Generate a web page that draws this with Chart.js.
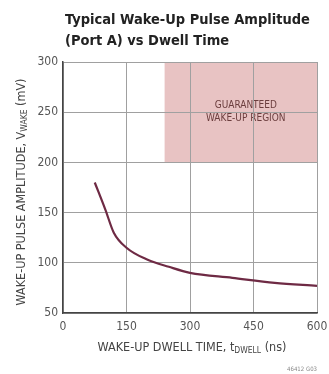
<!DOCTYPE html>
<html>
<head>
<meta charset="utf-8">
<script src="https://cdn.jsdelivr.net/npm/chart.js@4/dist/chart.umd.min.js"></script>
<style>
  html, body { margin: 0; padding: 0; background: #fff; }
  #wrap { width: 329px; height: 374px; }
</style>
</head>
<body>
<div id="wrap"><canvas id="wakeChart" width="329" height="374"></canvas></div>
<script>
// Dwell time (ns) vs wake-up pulse amplitude (mV)
const dwellTime = [75, 100, 120, 150, 200, 250, 300, 400, 500, 600];
const wakeAmplitude = [180, 153, 130, 115, 103, 96, 90, 85, 80, 77];

const xTicks = [0, 150, 300, 450, 600];
const yTicks = [50, 100, 150, 200, 250, 300];

// guaranteed wake-up region bounds (data units)
const regionX = [240, 600];
const regionY = [200, 300];

const titleLines = ['Typical Wake-Up Pulse Amplitude', '(Port A) vs Dwell Time'];
const condensed = '"Liberation Sans Narrow", "DejaVu Sans Condensed", sans-serif';

// draws the shaded region under the grid
const regionPlugin = {
    id: 'region',
    beforeDraw(chart) {
        const { ctx } = chart;
        const x = chart.scales.x, y = chart.scales.y;
        const x0 = x.getPixelForValue(regionX[0]), x1 = x.getPixelForValue(regionX[1]);
        const y0 = y.getPixelForValue(regionY[1]), y1 = y.getPixelForValue(regionY[0]);
        ctx.save();
        ctx.fillStyle = '#e8c3c3';
        ctx.fillRect(x0, y0, x1 - x0, y1 - y0);
        ctx.fillStyle = '#6b3d3d';
        ctx.font = '10px ' + condensed;
        ctx.textAlign = 'center';
        ctx.textBaseline = 'middle';
        const cx = (x0 + x1) / 2 + 5, cy = (y0 + y1) / 2;
        ctx.fillText('GUARANTEED', cx, cy - 7);
        ctx.fillText('WAKE-UP REGION', cx, cy + 6);
        ctx.restore();
    }
};

// axis title pieces: [text, isSubscript]
function subText(ctx, parts, x, y) {
    const big = '12.5px ' + condensed, small = '8.5px ' + condensed;
    let w = 0;
    parts.forEach(p => { ctx.font = p[1] ? small : big; w += ctx.measureText(p[0]).width; });
    let cx = x - w / 2;
    parts.forEach(p => {
        ctx.font = p[1] ? small : big;
        ctx.fillText(p[0], cx, p[1] ? y + 3 : y);
        cx += ctx.measureText(p[0]).width;
    });
}

const textPlugin = {
    id: 'texts',
    afterDraw(chart) {
        const { ctx, chartArea } = chart;
        ctx.save();
        ctx.fillStyle = '#222';
        ctx.font = 'bold 14.5px ' + condensed;
        ctx.textAlign = 'left';
        ctx.textBaseline = 'alphabetic';
        ctx.fillText(titleLines[0], 65, 24);
        ctx.fillText(titleLines[1], 65, 45);

        ctx.fillStyle = '#444';
        ctx.textBaseline = 'middle';
        ctx.textAlign = 'left';
        subText(ctx, [['WAKE-UP DWELL TIME, t', false], ['DWELL', true], [' (ns)', false]],
            (chartArea.left + chartArea.right) / 2 + 2, 348);

        ctx.save();
        ctx.translate(22, 192);
        ctx.rotate(-Math.PI / 2);
        subText(ctx, [['WAKE-UP PULSE AMPLITUDE, V', false], ['WAKE', true], [' (mV)', false]], 0, 0);
        ctx.restore();

        ctx.fillStyle = '#888';
        ctx.font = '6px ' + condensed;
        ctx.textAlign = 'right';
        ctx.fillText('46412 G03', 317, 369);
        ctx.restore();
    }
};

new Chart(document.getElementById('wakeChart').getContext('2d'), {
    type: 'scatter',
    data: {
        datasets: [{
            data: dwellTime.map((t, i) => ({ x: t, y: wakeAmplitude[i] })),
            showLine: true,
            borderColor: '#6e2a44',
            borderWidth: 2.2,
            pointRadius: 0,
            cubicInterpolationMode: 'monotone',
            fill: false
        }]
    },
    options: {
        responsive: false,
        animation: false,
        devicePixelRatio: 1,
        layout: { padding: { top: 62, right: 12, left: 0, bottom: 0 } },
        plugins: {
            legend: { display: false },
            tooltip: { enabled: false }
        },
        scales: {
            x: {
                type: 'linear',
                min: 0,
                max: 600,
                afterBuildTicks: s => { s.ticks = xTicks.map(v => ({ value: v })); },
                afterFit: s => { s.height = 61; s.paddingLeft = 0; s.paddingRight = 0; },
                grid: { color: '#a0a0a0', lineWidth: 1, drawTicks: false },
                border: { color: '#444', width: 1.5 },
                ticks: { color: '#555', font: { size: 12, family: condensed }, padding: 7, maxRotation: 0 }
            },
            y: {
                type: 'linear',
                min: 50,
                max: 300,
                afterBuildTicks: s => { s.ticks = yTicks.map(v => ({ value: v })); },
                afterFit: s => { s.width = 63; s.paddingTop = 0; s.paddingBottom = 0; },
                grid: { color: '#a0a0a0', lineWidth: 1, drawTicks: false },
                border: { color: '#444', width: 1.5 },
                ticks: { color: '#555', font: { size: 12, family: condensed }, padding: 5 }
            }
        }
    },
    plugins: [regionPlugin, textPlugin]
});
</script>
</body>
</html>
